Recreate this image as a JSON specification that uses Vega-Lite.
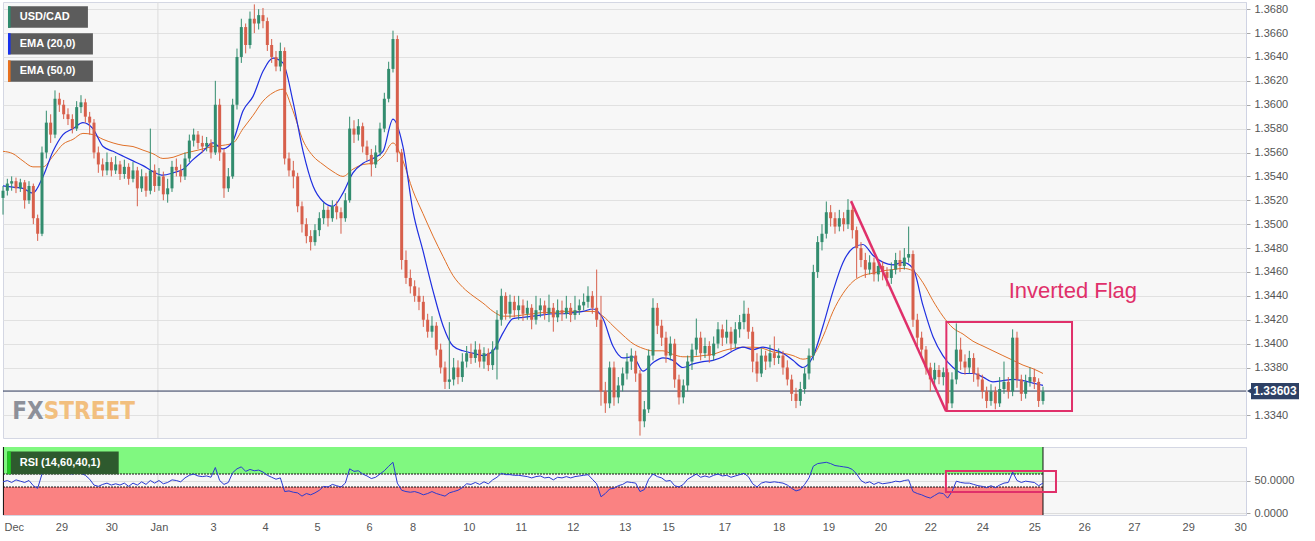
{
"$schema":"https://vega.github.io/schema/vega-lite/v6.json",
"padding":{"left":0,"top":1,"right":0,"bottom":0},
"background":"white",
"spacing":7,
"config":{"view":{"fill":"#f7f7f7","stroke":"#d4d7e3"},"font":"Liberation Sans","axis":{"labelFont":"Liberation Sans","labelColor":"#555555","labelFontSize":11,"labelOverlap":false}},
"datasets":{
"candles":[
{"t":0,"o":1.3522,"h":1.3532,"l":1.3508,"c":1.3528,"r":48},
{"t":2,"o":1.3528,"h":1.3538,"l":1.3524,"c":1.3534,"r":50},
{"t":4,"o":1.3534,"h":1.354,"l":1.3528,"c":1.3536,"r":47},
{"t":6,"o":1.3536,"h":1.3539,"l":1.3526,"c":1.353,"r":51},
{"t":8,"o":1.353,"h":1.3538,"l":1.3527,"c":1.3535,"r":49},
{"t":10,"o":1.3535,"h":1.3537,"l":1.3513,"c":1.352,"r":47},
{"t":12,"o":1.352,"h":1.3536,"l":1.3517,"c":1.3532,"r":50},
{"t":14,"o":1.3532,"h":1.3534,"l":1.35,"c":1.3505,"r":42},
{"t":16,"o":1.3505,"h":1.3508,"l":1.3486,"c":1.3492,"r":38},
{"t":18,"o":1.3492,"h":1.3565,"l":1.349,"c":1.356,"r":60},
{"t":20,"o":1.356,"h":1.3595,"l":1.3555,"c":1.3585,"r":66},
{"t":22,"o":1.3585,"h":1.3592,"l":1.3568,"c":1.3575,"r":64},
{"t":24,"o":1.3575,"h":1.3612,"l":1.3572,"c":1.3605,"r":67},
{"t":26,"o":1.3605,"h":1.361,"l":1.3594,"c":1.36,"r":66},
{"t":28,"o":1.36,"h":1.3604,"l":1.3588,"c":1.3592,"r":63},
{"t":30,"o":1.3592,"h":1.3597,"l":1.3583,"c":1.3588,"r":61},
{"t":32,"o":1.3588,"h":1.3592,"l":1.3576,"c":1.358,"r":60},
{"t":34,"o":1.358,"h":1.3603,"l":1.3578,"c":1.3598,"r":62},
{"t":36,"o":1.3598,"h":1.3608,"l":1.3593,"c":1.3602,"r":61},
{"t":38,"o":1.3602,"h":1.3605,"l":1.3585,"c":1.359,"r":58},
{"t":40,"o":1.359,"h":1.3594,"l":1.3575,"c":1.3585,"r":52},
{"t":42,"o":1.3585,"h":1.3588,"l":1.3555,"c":1.356,"r":43},
{"t":44,"o":1.356,"h":1.3565,"l":1.3543,"c":1.355,"r":41},
{"t":46,"o":1.355,"h":1.3555,"l":1.354,"c":1.3545,"r":44},
{"t":48,"o":1.3545,"h":1.356,"l":1.3541,"c":1.3552,"r":46},
{"t":50,"o":1.3552,"h":1.3556,"l":1.354,"c":1.3545,"r":43},
{"t":52,"o":1.3545,"h":1.3557,"l":1.3542,"c":1.355,"r":45},
{"t":54,"o":1.355,"h":1.3553,"l":1.3537,"c":1.3542,"r":43},
{"t":56,"o":1.3542,"h":1.3554,"l":1.3538,"c":1.3548,"r":46},
{"t":58,"o":1.3548,"h":1.3551,"l":1.3533,"c":1.3538,"r":41},
{"t":60,"o":1.3538,"h":1.3552,"l":1.3535,"c":1.3545,"r":46},
{"t":62,"o":1.3545,"h":1.3548,"l":1.3515,"c":1.353,"r":43},
{"t":64,"o":1.353,"h":1.3546,"l":1.3527,"c":1.354,"r":48},
{"t":66,"o":1.354,"h":1.3543,"l":1.3523,"c":1.3528,"r":44},
{"t":68,"o":1.3528,"h":1.358,"l":1.3525,"c":1.3545,"r":50},
{"t":70,"o":1.3545,"h":1.355,"l":1.3527,"c":1.3532,"r":46},
{"t":72,"o":1.3532,"h":1.3547,"l":1.3528,"c":1.354,"r":50},
{"t":74,"o":1.354,"h":1.3544,"l":1.352,"c":1.3525,"r":45},
{"t":76,"o":1.3525,"h":1.3538,"l":1.3518,"c":1.353,"r":47},
{"t":78,"o":1.353,"h":1.3553,"l":1.3527,"c":1.3548,"r":51},
{"t":80,"o":1.3548,"h":1.3555,"l":1.354,"c":1.3545,"r":50},
{"t":82,"o":1.3545,"h":1.355,"l":1.3535,"c":1.354,"r":48},
{"t":84,"o":1.354,"h":1.356,"l":1.3537,"c":1.3555,"r":54},
{"t":86,"o":1.3555,"h":1.3575,"l":1.3552,"c":1.357,"r":58},
{"t":88,"o":1.357,"h":1.358,"l":1.3565,"c":1.3575,"r":60},
{"t":90,"o":1.3575,"h":1.3578,"l":1.3563,"c":1.3568,"r":57},
{"t":92,"o":1.3568,"h":1.3574,"l":1.356,"c":1.3565,"r":56},
{"t":94,"o":1.3565,"h":1.3573,"l":1.3561,"c":1.3568,"r":57},
{"t":96,"o":1.3568,"h":1.3571,"l":1.3555,"c":1.356,"r":55},
{"t":98,"o":1.356,"h":1.362,"l":1.3558,"c":1.36,"r":70},
{"t":100,"o":1.36,"h":1.3605,"l":1.3553,"c":1.356,"r":50},
{"t":102,"o":1.356,"h":1.3563,"l":1.3522,"c":1.353,"r":44},
{"t":104,"o":1.353,"h":1.3547,"l":1.3527,"c":1.354,"r":47},
{"t":106,"o":1.354,"h":1.3605,"l":1.3538,"c":1.36,"r":62},
{"t":108,"o":1.36,"h":1.3647,"l":1.3596,"c":1.364,"r":68},
{"t":110,"o":1.364,"h":1.3672,"l":1.3635,"c":1.3665,"r":71},
{"t":112,"o":1.3665,"h":1.3668,"l":1.3643,"c":1.365,"r":64},
{"t":114,"o":1.365,"h":1.3678,"l":1.3647,"c":1.3672,"r":67},
{"t":116,"o":1.3672,"h":1.3684,"l":1.366,"c":1.3668,"r":65},
{"t":118,"o":1.3668,"h":1.368,"l":1.3663,"c":1.3675,"r":66},
{"t":120,"o":1.3675,"h":1.3681,"l":1.3664,"c":1.367,"r":63},
{"t":122,"o":1.367,"h":1.3673,"l":1.3645,"c":1.365,"r":58},
{"t":124,"o":1.365,"h":1.3655,"l":1.3635,"c":1.364,"r":55},
{"t":126,"o":1.364,"h":1.3645,"l":1.3628,"c":1.3632,"r":52},
{"t":128,"o":1.3632,"h":1.3652,"l":1.3628,"c":1.3645,"r":54},
{"t":130,"o":1.3645,"h":1.3648,"l":1.355,"c":1.3555,"r":33},
{"t":132,"o":1.3555,"h":1.356,"l":1.354,"c":1.3545,"r":34},
{"t":134,"o":1.3545,"h":1.3553,"l":1.353,"c":1.354,"r":32},
{"t":136,"o":1.354,"h":1.3543,"l":1.351,"c":1.3515,"r":31},
{"t":138,"o":1.3515,"h":1.3519,"l":1.3493,"c":1.35,"r":26},
{"t":140,"o":1.35,"h":1.3505,"l":1.3484,"c":1.349,"r":30},
{"t":142,"o":1.349,"h":1.3495,"l":1.3478,"c":1.3485,"r":28},
{"t":144,"o":1.3485,"h":1.35,"l":1.3482,"c":1.3495,"r":31},
{"t":146,"o":1.3495,"h":1.351,"l":1.349,"c":1.3505,"r":35},
{"t":148,"o":1.3505,"h":1.3518,"l":1.35,"c":1.3512,"r":41},
{"t":150,"o":1.3512,"h":1.3515,"l":1.3498,"c":1.3505,"r":40},
{"t":152,"o":1.3505,"h":1.352,"l":1.3502,"c":1.3515,"r":44},
{"t":154,"o":1.3515,"h":1.3519,"l":1.3504,"c":1.351,"r":42},
{"t":156,"o":1.351,"h":1.3514,"l":1.3492,"c":1.3505,"r":40},
{"t":158,"o":1.3505,"h":1.3526,"l":1.3502,"c":1.352,"r":46},
{"t":160,"o":1.352,"h":1.359,"l":1.3518,"c":1.358,"r":68},
{"t":162,"o":1.358,"h":1.3587,"l":1.3568,"c":1.3575,"r":64},
{"t":164,"o":1.3575,"h":1.3588,"l":1.357,"c":1.3582,"r":65},
{"t":166,"o":1.3582,"h":1.3585,"l":1.356,"c":1.3565,"r":60},
{"t":168,"o":1.3565,"h":1.357,"l":1.3553,"c":1.3558,"r":57},
{"t":170,"o":1.3558,"h":1.3563,"l":1.354,"c":1.355,"r":53},
{"t":172,"o":1.355,"h":1.3566,"l":1.3547,"c":1.356,"r":55},
{"t":174,"o":1.356,"h":1.3585,"l":1.3557,"c":1.358,"r":60},
{"t":176,"o":1.358,"h":1.361,"l":1.3577,"c":1.3605,"r":65},
{"t":178,"o":1.3605,"h":1.3636,"l":1.3602,"c":1.363,"r":72},
{"t":180,"o":1.363,"h":1.3662,"l":1.3627,"c":1.3655,"r":78},
{"t":182,"o":1.3655,"h":1.3658,"l":1.3552,"c":1.356,"r":46},
{"t":184,"o":1.356,"h":1.3563,"l":1.3462,"c":1.347,"r":35},
{"t":186,"o":1.347,"h":1.3478,"l":1.345,"c":1.3455,"r":33},
{"t":188,"o":1.3455,"h":1.3462,"l":1.3442,"c":1.3448,"r":32},
{"t":190,"o":1.3448,"h":1.3453,"l":1.3435,"c":1.344,"r":33},
{"t":192,"o":1.344,"h":1.3447,"l":1.3428,"c":1.3435,"r":31},
{"t":194,"o":1.3435,"h":1.344,"l":1.3414,"c":1.342,"r":28},
{"t":196,"o":1.342,"h":1.3425,"l":1.3405,"c":1.341,"r":30},
{"t":198,"o":1.341,"h":1.3423,"l":1.3405,"c":1.3415,"r":33},
{"t":200,"o":1.3415,"h":1.3418,"l":1.339,"c":1.3395,"r":30},
{"t":202,"o":1.3395,"h":1.34,"l":1.3375,"c":1.338,"r":28},
{"t":204,"o":1.338,"h":1.3385,"l":1.3362,"c":1.3368,"r":26},
{"t":206,"o":1.3368,"h":1.3418,"l":1.3362,"c":1.337,"r":31},
{"t":208,"o":1.337,"h":1.3388,"l":1.3365,"c":1.338,"r":33},
{"t":210,"o":1.338,"h":1.3386,"l":1.3366,"c":1.3372,"r":35},
{"t":212,"o":1.3372,"h":1.3392,"l":1.3368,"c":1.3385,"r":39},
{"t":214,"o":1.3385,"h":1.3398,"l":1.338,"c":1.3392,"r":45},
{"t":216,"o":1.3392,"h":1.34,"l":1.3383,"c":1.3388,"r":44},
{"t":218,"o":1.3388,"h":1.3402,"l":1.3384,"c":1.3395,"r":47},
{"t":220,"o":1.3395,"h":1.34,"l":1.338,"c":1.3385,"r":44},
{"t":222,"o":1.3385,"h":1.3397,"l":1.3379,"c":1.3392,"r":48},
{"t":224,"o":1.3392,"h":1.3396,"l":1.3377,"c":1.3382,"r":45},
{"t":226,"o":1.3382,"h":1.3402,"l":1.3378,"c":1.3395,"r":51},
{"t":228,"o":1.3395,"h":1.3428,"l":1.337,"c":1.342,"r":55},
{"t":230,"o":1.342,"h":1.3446,"l":1.3415,"c":1.344,"r":61},
{"t":232,"o":1.344,"h":1.3443,"l":1.342,"c":1.3425,"r":59},
{"t":234,"o":1.3425,"h":1.3441,"l":1.3421,"c":1.3435,"r":59},
{"t":236,"o":1.3435,"h":1.344,"l":1.3422,"c":1.3428,"r":58},
{"t":238,"o":1.3428,"h":1.344,"l":1.342,"c":1.3432,"r":58},
{"t":240,"o":1.3432,"h":1.3437,"l":1.3419,"c":1.3425,"r":57},
{"t":242,"o":1.3425,"h":1.3436,"l":1.342,"c":1.343,"r":56},
{"t":244,"o":1.343,"h":1.3433,"l":1.3412,"c":1.342,"r":54},
{"t":246,"o":1.342,"h":1.344,"l":1.3416,"c":1.3428,"r":56},
{"t":248,"o":1.3428,"h":1.3438,"l":1.3422,"c":1.3432,"r":57},
{"t":250,"o":1.3432,"h":1.3436,"l":1.342,"c":1.3425,"r":54},
{"t":252,"o":1.3425,"h":1.3441,"l":1.3418,"c":1.343,"r":55},
{"t":254,"o":1.343,"h":1.3434,"l":1.341,"c":1.3422,"r":51},
{"t":256,"o":1.3422,"h":1.3437,"l":1.3418,"c":1.3428,"r":55},
{"t":258,"o":1.3428,"h":1.3436,"l":1.3419,"c":1.3425,"r":54},
{"t":260,"o":1.3425,"h":1.344,"l":1.3421,"c":1.343,"r":56},
{"t":262,"o":1.343,"h":1.3434,"l":1.3418,"c":1.3424,"r":54},
{"t":264,"o":1.3424,"h":1.344,"l":1.342,"c":1.3428,"r":56},
{"t":266,"o":1.3428,"h":1.3437,"l":1.3424,"c":1.3432,"r":57},
{"t":268,"o":1.3432,"h":1.3442,"l":1.3428,"c":1.3435,"r":58},
{"t":270,"o":1.3435,"h":1.3448,"l":1.343,"c":1.344,"r":59},
{"t":272,"o":1.344,"h":1.3444,"l":1.3425,"c":1.343,"r":52},
{"t":274,"o":1.343,"h":1.3462,"l":1.3414,"c":1.342,"r":45},
{"t":276,"o":1.342,"h":1.344,"l":1.3348,"c":1.336,"r":25},
{"t":278,"o":1.336,"h":1.3368,"l":1.3342,"c":1.335,"r":30},
{"t":280,"o":1.335,"h":1.3385,"l":1.3346,"c":1.338,"r":37},
{"t":282,"o":1.338,"h":1.3385,"l":1.3348,"c":1.3355,"r":38},
{"t":284,"o":1.3355,"h":1.3372,"l":1.335,"c":1.3365,"r":42},
{"t":286,"o":1.3365,"h":1.338,"l":1.336,"c":1.3375,"r":44},
{"t":288,"o":1.3375,"h":1.3392,"l":1.337,"c":1.3385,"r":48},
{"t":290,"o":1.3385,"h":1.3396,"l":1.3378,"c":1.339,"r":47},
{"t":292,"o":1.339,"h":1.3394,"l":1.3368,"c":1.3375,"r":46},
{"t":294,"o":1.3375,"h":1.3378,"l":1.3323,"c":1.3335,"r":33},
{"t":296,"o":1.3335,"h":1.3352,"l":1.333,"c":1.3345,"r":36},
{"t":298,"o":1.3345,"h":1.3395,"l":1.3342,"c":1.339,"r":52},
{"t":300,"o":1.339,"h":1.3438,"l":1.3386,"c":1.343,"r":60},
{"t":302,"o":1.343,"h":1.3434,"l":1.3408,"c":1.3415,"r":56},
{"t":304,"o":1.3415,"h":1.342,"l":1.3398,"c":1.3405,"r":54},
{"t":306,"o":1.3405,"h":1.341,"l":1.3384,"c":1.339,"r":49},
{"t":308,"o":1.339,"h":1.3406,"l":1.3386,"c":1.34,"r":50},
{"t":310,"o":1.34,"h":1.3404,"l":1.3363,"c":1.337,"r":42},
{"t":312,"o":1.337,"h":1.3374,"l":1.3349,"c":1.3355,"r":40},
{"t":314,"o":1.3355,"h":1.337,"l":1.335,"c":1.3365,"r":44},
{"t":316,"o":1.3365,"h":1.339,"l":1.336,"c":1.3385,"r":52},
{"t":318,"o":1.3385,"h":1.34,"l":1.3378,"c":1.3395,"r":56},
{"t":320,"o":1.3395,"h":1.3421,"l":1.339,"c":1.3405,"r":60},
{"t":322,"o":1.3405,"h":1.341,"l":1.3386,"c":1.3392,"r":55},
{"t":324,"o":1.3392,"h":1.3405,"l":1.3388,"c":1.3398,"r":57},
{"t":326,"o":1.3398,"h":1.3402,"l":1.3384,"c":1.339,"r":55},
{"t":328,"o":1.339,"h":1.3406,"l":1.3386,"c":1.34,"r":58},
{"t":330,"o":1.34,"h":1.3418,"l":1.3396,"c":1.3412,"r":60},
{"t":332,"o":1.3412,"h":1.3416,"l":1.3398,"c":1.3405,"r":57},
{"t":334,"o":1.3405,"h":1.342,"l":1.34,"c":1.341,"r":58},
{"t":336,"o":1.341,"h":1.3414,"l":1.3394,"c":1.34,"r":55},
{"t":338,"o":1.34,"h":1.3418,"l":1.3396,"c":1.3412,"r":57},
{"t":340,"o":1.3412,"h":1.3424,"l":1.3405,"c":1.3418,"r":59},
{"t":342,"o":1.3418,"h":1.3436,"l":1.3412,"c":1.3425,"r":61},
{"t":344,"o":1.3425,"h":1.343,"l":1.3404,"c":1.341,"r":56},
{"t":346,"o":1.341,"h":1.3414,"l":1.3376,"c":1.3385,"r":45},
{"t":348,"o":1.3385,"h":1.3392,"l":1.3368,"c":1.3375,"r":40},
{"t":350,"o":1.3375,"h":1.3396,"l":1.3372,"c":1.339,"r":46},
{"t":352,"o":1.339,"h":1.3394,"l":1.3378,"c":1.3385,"r":48},
{"t":354,"o":1.3385,"h":1.3399,"l":1.338,"c":1.3392,"r":47},
{"t":356,"o":1.3392,"h":1.3406,"l":1.3382,"c":1.3388,"r":48},
{"t":358,"o":1.3388,"h":1.3396,"l":1.3383,"c":1.339,"r":47},
{"t":360,"o":1.339,"h":1.3394,"l":1.3374,"c":1.338,"r":46},
{"t":362,"o":1.338,"h":1.3386,"l":1.3365,"c":1.337,"r":43},
{"t":364,"o":1.337,"h":1.3374,"l":1.3352,"c":1.3358,"r":38},
{"t":366,"o":1.3358,"h":1.3363,"l":1.3346,"c":1.3352,"r":34},
{"t":368,"o":1.3352,"h":1.3368,"l":1.3348,"c":1.3362,"r":36},
{"t":370,"o":1.3362,"h":1.338,"l":1.3358,"c":1.3375,"r":44},
{"t":372,"o":1.3375,"h":1.3396,"l":1.337,"c":1.339,"r":54},
{"t":374,"o":1.339,"h":1.3466,"l":1.3386,"c":1.346,"r":72},
{"t":376,"o":1.346,"h":1.349,"l":1.3455,"c":1.3485,"r":76},
{"t":378,"o":1.3485,"h":1.35,"l":1.3478,"c":1.3492,"r":77},
{"t":380,"o":1.3492,"h":1.3519,"l":1.3488,"c":1.351,"r":78},
{"t":382,"o":1.351,"h":1.3516,"l":1.3498,"c":1.3505,"r":76},
{"t":384,"o":1.3505,"h":1.351,"l":1.3492,"c":1.3498,"r":73},
{"t":386,"o":1.3498,"h":1.3512,"l":1.3494,"c":1.3505,"r":72},
{"t":388,"o":1.3505,"h":1.351,"l":1.3494,"c":1.35,"r":71},
{"t":390,"o":1.35,"h":1.3521,"l":1.3496,"c":1.3512,"r":70},
{"t":392,"o":1.3512,"h":1.3516,"l":1.3488,"c":1.3495,"r":67},
{"t":394,"o":1.3495,"h":1.3498,"l":1.3455,"c":1.348,"r":60},
{"t":396,"o":1.348,"h":1.3485,"l":1.3464,"c":1.347,"r":50},
{"t":398,"o":1.347,"h":1.3476,"l":1.3455,"c":1.3462,"r":46},
{"t":400,"o":1.3462,"h":1.3474,"l":1.3458,"c":1.3468,"r":48},
{"t":402,"o":1.3468,"h":1.3472,"l":1.3452,"c":1.3458,"r":44},
{"t":404,"o":1.3458,"h":1.347,"l":1.3452,"c":1.3465,"r":47},
{"t":406,"o":1.3465,"h":1.3469,"l":1.3453,"c":1.346,"r":45},
{"t":408,"o":1.346,"h":1.3464,"l":1.3448,"c":1.3455,"r":46},
{"t":410,"o":1.3455,"h":1.3468,"l":1.345,"c":1.3462,"r":47},
{"t":412,"o":1.3462,"h":1.3476,"l":1.3458,"c":1.347,"r":49},
{"t":414,"o":1.347,"h":1.3478,"l":1.346,"c":1.3465,"r":48},
{"t":416,"o":1.3465,"h":1.348,"l":1.3462,"c":1.3472,"r":50},
{"t":418,"o":1.3472,"h":1.3498,"l":1.3468,"c":1.3475,"r":51},
{"t":420,"o":1.3475,"h":1.3478,"l":1.3414,"c":1.342,"r":33},
{"t":422,"o":1.342,"h":1.3425,"l":1.3398,"c":1.3405,"r":30},
{"t":424,"o":1.3405,"h":1.341,"l":1.3388,"c":1.3395,"r":28},
{"t":426,"o":1.3395,"h":1.3398,"l":1.3374,"c":1.338,"r":25},
{"t":428,"o":1.338,"h":1.3384,"l":1.336,"c":1.337,"r":23},
{"t":430,"o":1.337,"h":1.3384,"l":1.3365,"c":1.3378,"r":27},
{"t":432,"o":1.3378,"h":1.3382,"l":1.3366,"c":1.3372,"r":31},
{"t":434,"o":1.3372,"h":1.338,"l":1.3365,"c":1.3376,"r":30},
{"t":436,"o":1.3376,"h":1.3379,"l":1.3343,"c":1.335,"r":23},
{"t":438,"o":1.335,"h":1.3376,"l":1.3346,"c":1.337,"r":33},
{"t":440,"o":1.337,"h":1.3417,"l":1.3366,"c":1.3395,"r":49},
{"t":442,"o":1.3395,"h":1.3405,"l":1.3378,"c":1.3385,"r":47},
{"t":444,"o":1.3385,"h":1.3391,"l":1.3374,"c":1.338,"r":46},
{"t":446,"o":1.338,"h":1.3394,"l":1.3375,"c":1.3388,"r":46},
{"t":448,"o":1.3388,"h":1.3392,"l":1.3368,"c":1.3375,"r":44},
{"t":450,"o":1.3375,"h":1.338,"l":1.3364,"c":1.337,"r":42},
{"t":452,"o":1.337,"h":1.3374,"l":1.3354,"c":1.336,"r":41},
{"t":454,"o":1.336,"h":1.3364,"l":1.3346,"c":1.3352,"r":39},
{"t":456,"o":1.3352,"h":1.3366,"l":1.3348,"c":1.336,"r":42},
{"t":458,"o":1.336,"h":1.3364,"l":1.3345,"c":1.335,"r":39},
{"t":460,"o":1.335,"h":1.3372,"l":1.3347,"c":1.3362,"r":43},
{"t":462,"o":1.3362,"h":1.3385,"l":1.3358,"c":1.3368,"r":46},
{"t":464,"o":1.3368,"h":1.3372,"l":1.3354,"c":1.336,"r":47},
{"t":466,"o":1.336,"h":1.3412,"l":1.3356,"c":1.3405,"r":63},
{"t":468,"o":1.3405,"h":1.341,"l":1.3363,"c":1.337,"r":50},
{"t":470,"o":1.337,"h":1.3374,"l":1.3352,"c":1.3358,"r":47},
{"t":472,"o":1.3358,"h":1.3374,"l":1.3354,"c":1.3368,"r":49},
{"t":474,"o":1.3368,"h":1.338,"l":1.3364,"c":1.3372,"r":48},
{"t":476,"o":1.3372,"h":1.3379,"l":1.3362,"c":1.3368,"r":47},
{"t":478,"o":1.3368,"h":1.3371,"l":1.3347,"c":1.3352,"r":42},
{"t":480,"o":1.3352,"h":1.3364,"l":1.3349,"c":1.3360,"r":46}
],
"ema":[
{"t":0,"a":1.3532,"b":1.3561},{"t":4.6,"a":1.3531,"b":1.3559},{"t":9.2,"a":1.353,"b":1.3553},{"t":13.8,"a":1.3526,"b":1.3548},
{"t":18.5,"a":1.354,"b":1.3548},{"t":23.1,"a":1.3561,"b":1.3557},{"t":27.7,"a":1.3575,"b":1.3567},{"t":32.3,"a":1.358,"b":1.3571},
{"t":36.9,"a":1.3585,"b":1.3576},{"t":41.5,"a":1.358,"b":1.3575},{"t":46.2,"a":1.3565,"b":1.3571},{"t":50.8,"a":1.3561,"b":1.3568},
{"t":55.4,"a":1.3557,"b":1.3566},{"t":60,"a":1.3553,"b":1.3565},{"t":64.6,"a":1.3549,"b":1.3562},{"t":69.2,"a":1.3544,"b":1.3559},
{"t":73.8,"a":1.3541,"b":1.3555},{"t":78.5,"a":1.3543,"b":1.3556},{"t":83.1,"a":1.3546,"b":1.3559},{"t":87.7,"a":1.3554,"b":1.3561},
{"t":92.3,"a":1.3561,"b":1.3563},{"t":96.9,"a":1.3568,"b":1.3565},{"t":101.5,"a":1.3563,"b":1.3566},{"t":106.2,"a":1.357,"b":1.3568},
{"t":110.8,"a":1.3595,"b":1.358},{"t":115.4,"a":1.3607,"b":1.3591},{"t":120,"a":1.3628,"b":1.3603},{"t":124.6,"a":1.3639,"b":1.361},
{"t":129.2,"a":1.3635,"b":1.3613},{"t":133.8,"a":1.3603,"b":1.3595},{"t":138.5,"a":1.3561,"b":1.357},{"t":143.1,"a":1.3532,"b":1.3557},
{"t":147.7,"a":1.3519,"b":1.355},{"t":152.3,"a":1.3515,"b":1.3544},{"t":156.9,"a":1.3526,"b":1.354},{"t":161.5,"a":1.3543,"b":1.3546},
{"t":166.2,"a":1.3551,"b":1.355},{"t":170.8,"a":1.3555,"b":1.3551},{"t":175.4,"a":1.3561,"b":1.3557},{"t":180,"a":1.3588,"b":1.3568},
{"t":184.6,"a":1.3565,"b":1.3553},{"t":189.2,"a":1.3511,"b":1.3528},{"t":193.8,"a":1.3478,"b":1.3509},{"t":198.5,"a":1.3444,"b":1.349},
{"t":203.1,"a":1.3415,"b":1.3473},{"t":207.7,"a":1.3398,"b":1.3457},{"t":212.3,"a":1.3394,"b":1.3447},{"t":216.9,"a":1.3392,"b":1.344},
{"t":221.5,"a":1.339,"b":1.3434},{"t":226.2,"a":1.3394,"b":1.3427},{"t":230.8,"a":1.3409,"b":1.3423},{"t":235.4,"a":1.3421,"b":1.3423},
{"t":240,"a":1.3422,"b":1.3424},{"t":244.6,"a":1.3423,"b":1.3425},{"t":249.2,"a":1.3424,"b":1.3426},{"t":253.8,"a":1.3425,"b":1.3426},
{"t":258.5,"a":1.3425,"b":1.3427},{"t":263.1,"a":1.3426,"b":1.3427},{"t":267.7,"a":1.3427,"b":1.3427},{"t":272.3,"a":1.3429,"b":1.3427},
{"t":276.9,"a":1.3421,"b":1.3423},{"t":281.5,"a":1.3398,"b":1.3415},{"t":286.2,"a":1.3388,"b":1.3407},{"t":290.8,"a":1.3389,"b":1.34},
{"t":295.4,"a":1.3377,"b":1.3396},{"t":300,"a":1.3384,"b":1.3394},{"t":304.6,"a":1.3388,"b":1.3394},{"t":309.2,"a":1.3386,"b":1.3391},
{"t":313.8,"a":1.338,"b":1.3389},{"t":318.5,"a":1.3383,"b":1.3389},{"t":323.1,"a":1.3385,"b":1.339},{"t":327.7,"a":1.3386,"b":1.3391},
{"t":332.3,"a":1.3389,"b":1.3394},{"t":336.9,"a":1.3394,"b":1.3396},{"t":341.5,"a":1.3397,"b":1.3397},{"t":346.2,"a":1.3395,"b":1.3397},
{"t":350.8,"a":1.3397,"b":1.3396},{"t":355.4,"a":1.3395,"b":1.3393},{"t":360,"a":1.3392,"b":1.3392},{"t":364.6,"a":1.3386,"b":1.339},
{"t":369.2,"a":1.338,"b":1.3387},{"t":373.8,"a":1.3389,"b":1.339},{"t":378.5,"a":1.3415,"b":1.3406},{"t":383.1,"a":1.3444,"b":1.3427},
{"t":387.7,"a":1.3468,"b":1.3442},{"t":392.3,"a":1.348,"b":1.3452},{"t":396.9,"a":1.3483,"b":1.3457},{"t":401.5,"a":1.3474,"b":1.3459},
{"t":406.2,"a":1.3468,"b":1.3461},{"t":410.8,"a":1.3466,"b":1.3462},{"t":415.4,"a":1.3468,"b":1.3463},{"t":420,"a":1.3463,"b":1.3461},
{"t":424.6,"a":1.3432,"b":1.3451},{"t":429.2,"a":1.3406,"b":1.3436},{"t":433.8,"a":1.339,"b":1.3423},{"t":438.5,"a":1.338,"b":1.3413},
{"t":443.1,"a":1.3375,"b":1.3408},{"t":447.7,"a":1.3375,"b":1.3402},{"t":452.3,"a":1.3372,"b":1.3398},{"t":456.9,"a":1.3368,"b":1.3394},
{"t":461.5,"a":1.3369,"b":1.339},{"t":466.2,"a":1.337,"b":1.3386},{"t":470.8,"a":1.3369,"b":1.3382},{"t":475.4,"a":1.3367,"b":1.3379},
{"t":480,"a":1.3365,"b":1.3375}
]
},
"vconcat":[
{
"width":1243,"height":436,
"layer":[
{"data":{"values":[{}]},"mark":{"type":"rule","color":"#dcdcdc","strokeWidth":1},
 "encoding":{"x":{"datum":71.5,"type":"quantitative","scale":{"domain":[0,573.7],"nice":false,"zero":false,"padding":0},"axis":null}}},
{"data":{"values":[{}]},"mark":{"type":"rule","color":"#2a3658","strokeWidth":1},
 "encoding":{"y":{"datum":1.33603,"type":"quantitative","scale":{"domain":[1.3321,1.3686],"nice":false,"zero":false,"padding":0},
  "axis":{"orient":"right","title":null,"values":[1.334,1.338,1.34,1.342,1.344,1.346,1.348,1.35,1.352,1.354,1.356,1.358,1.36,1.362,1.364,1.366,1.368],"tickCount":30,"format":".4f","grid":true,"gridColor":"#e1e1e1","domainColor":"#cfd3e3","tickColor":"#a8a8a8","tickSize":4,"labelPadding":4,"labelFontSize":11,"labelOverlap":false,"labelFlush":false}}}},
{"data":{"values":[{}]},"mark":{"type":"text","text":"FX","align":"right","baseline":"alphabetic","font":"DejaVu Sans Condensed, Liberation Sans Narrow, sans-serif","fontSize":24,"fontWeight":"bold","color":"#8d9099"},
 "encoding":{"x":{"datum":18.8,"type":"quantitative","scale":{"domain":[0,573.7],"nice":false,"zero":false,"padding":0}},"y":{"datum":1.3337,"type":"quantitative"}}},
{"data":{"values":[{}]},"mark":{"type":"text","text":"STREET","align":"left","baseline":"alphabetic","font":"DejaVu Sans Condensed, Liberation Sans Narrow, sans-serif","fontSize":24,"fontWeight":"bold","color":"#f2bf7e"},
 "encoding":{"x":{"datum":18.8,"type":"quantitative","scale":{"domain":[0,573.7],"nice":false,"zero":false,"padding":0}},"y":{"datum":1.3337,"type":"quantitative"}}},
{"data":{"name":"ema"},"mark":{"type":"line","color":"#e07028","strokeWidth":1,"interpolate":"monotone"},
 "encoding":{"x":{"field":"t","type":"quantitative","scale":{"domain":[0,573.7],"nice":false,"zero":false,"padding":0}},"y":{"field":"b","type":"quantitative"}}},
{"data":{"name":"ema"},"mark":{"type":"line","color":"#1f2fe0","strokeWidth":1.2,"interpolate":"monotone"},
 "encoding":{"x":{"field":"t","type":"quantitative","scale":{"domain":[0,573.7],"nice":false,"zero":false,"padding":0}},"y":{"field":"a","type":"quantitative"}}},
{"data":{"name":"candles"},"mark":{"type":"rule","strokeWidth":1},
 "encoding":{"x":{"field":"t","type":"quantitative","scale":{"domain":[0,573.7],"nice":false,"zero":false,"padding":0}},"y":{"field":"l","type":"quantitative"},"y2":{"field":"h"},
  "color":{"condition":{"test":"datum.c >= datum.o","value":"#328c6e"},"value":"#d75f4b"}}},
{"data":{"name":"candles"},"mark":{"type":"bar","width":3,"orient":"vertical"},
 "encoding":{"x":{"field":"t","type":"quantitative","scale":{"domain":[0,573.7],"nice":false,"zero":false,"padding":0}},"y":{"field":"o","type":"quantitative"},"y2":{"field":"c"},
  "color":{"condition":{"test":"datum.c >= datum.o","value":"#328c6e"},"value":"#d75f4b"}}},
{"data":{"values":[{}]},"mark":{"type":"rule","color":"#e0306a","strokeWidth":2.5},
 "encoding":{"x":{"datum":391.4,"type":"quantitative","scale":{"domain":[0,573.7],"nice":false,"zero":false,"padding":0}},"y":{"datum":1.35193,"type":"quantitative"},"x2":{"datum":435.2},"y2":{"datum":1.33436}}},
{"data":{"values":[{}]},"mark":{"type":"rect","fill":null,"fillOpacity":0,"stroke":"#e0306a","strokeWidth":2},
 "encoding":{"x":{"datum":435.4,"type":"quantitative","scale":{"domain":[0,573.7],"nice":false,"zero":false,"padding":0}},"x2":{"datum":493.4},"y":{"datum":1.34181,"type":"quantitative"},"y2":{"datum":1.33436}}},
{"data":{"values":[{}]},"mark":{"type":"text","text":"Inverted Flag","align":"center","baseline":"middle","fontSize":22,"color":"#e0306a","font":"Liberation Sans"},
 "encoding":{"x":{"datum":493.8,"type":"quantitative","scale":{"domain":[0,573.7],"nice":false,"zero":false,"padding":0}},"y":{"datum":1.3444,"type":"quantitative"}}},
{"data":{"values":[{}]},"mark":{"type":"rect","color":"#5c5c5c"},
 "encoding":{"x":{"datum":2.3,"type":"quantitative","scale":{"domain":[0,573.7],"nice":false,"zero":false,"padding":0}},"x2":{"datum":39.2},"y":{"datum":1.36825,"type":"quantitative"},"y2":{"datum":1.36644}}},
{"data":{"values":[{}]},"mark":{"type":"rect","color":"#5c5c5c"},
 "encoding":{"x":{"datum":2.3,"type":"quantitative","scale":{"domain":[0,573.7],"nice":false,"zero":false,"padding":0}},"x2":{"datum":41.5},"y":{"datum":1.36599,"type":"quantitative"},"y2":{"datum":1.36421}}},
{"data":{"values":[{}]},"mark":{"type":"rect","color":"#5c5c5c"},
 "encoding":{"x":{"datum":2.3,"type":"quantitative","scale":{"domain":[0,573.7],"nice":false,"zero":false,"padding":0}},"x2":{"datum":41.5},"y":{"datum":1.36371,"type":"quantitative"},"y2":{"datum":1.36192}}},
{"data":{"values":[{}]},"mark":{"type":"rect","color":"#2e8b6e"},
 "encoding":{"x":{"datum":2.3,"type":"quantitative","scale":{"domain":[0,573.7],"nice":false,"zero":false,"padding":0}},"x2":{"datum":3.5},"y":{"datum":1.36825,"type":"quantitative"},"y2":{"datum":1.36644}}},
{"data":{"values":[{}]},"mark":{"type":"rect","color":"#1530ee"},
 "encoding":{"x":{"datum":2.3,"type":"quantitative","scale":{"domain":[0,573.7],"nice":false,"zero":false,"padding":0}},"x2":{"datum":3.5},"y":{"datum":1.36599,"type":"quantitative"},"y2":{"datum":1.36421}}},
{"data":{"values":[{}]},"mark":{"type":"rect","color":"#e8701e"},
 "encoding":{"x":{"datum":2.3,"type":"quantitative","scale":{"domain":[0,573.7],"nice":false,"zero":false,"padding":0}},"x2":{"datum":3.5},"y":{"datum":1.36371,"type":"quantitative"},"y2":{"datum":1.36192}}},
{"data":{"values":[{}]},"mark":{"type":"text","text":"USD/CAD","align":"left","baseline":"middle","fontSize":11,"fontWeight":"bold","color":"white"},
 "encoding":{"x":{"datum":7.7,"type":"quantitative","scale":{"domain":[0,573.7],"nice":false,"zero":false,"padding":0}},"y":{"datum":1.36735,"type":"quantitative"}}},
{"data":{"values":[{}]},"mark":{"type":"text","text":"EMA (20,0)","align":"left","baseline":"middle","fontSize":11,"fontWeight":"bold","color":"white"},
 "encoding":{"x":{"datum":7.7,"type":"quantitative","scale":{"domain":[0,573.7],"nice":false,"zero":false,"padding":0}},"y":{"datum":1.3651,"type":"quantitative"}}},
{"data":{"values":[{}]},"mark":{"type":"text","text":"EMA (50,0)","align":"left","baseline":"middle","fontSize":11,"fontWeight":"bold","color":"white"},
 "encoding":{"x":{"datum":7.7,"type":"quantitative","scale":{"domain":[0,573.7],"nice":false,"zero":false,"padding":0}},"y":{"datum":1.36281,"type":"quantitative"}}},
{"data":{"values":[{}]},"mark":{"type":"rect","color":"#2e4165","xOffset":5,"x2Offset":53},
 "encoding":{"x":{"datum":573.7,"type":"quantitative","scale":{"domain":[0,573.7],"nice":false,"zero":false,"padding":0}},"x2":{"datum":573.7},"y":{"datum":1.3367,"type":"quantitative"},"y2":{"datum":1.33535}}},
{"data":{"values":[{}]},"mark":{"type":"point","shape":"triangle-left","filled":true,"size":50,"color":"#2e4165","opacity":1,"xOffset":4},
 "encoding":{"x":{"datum":573.7,"type":"quantitative","scale":{"domain":[0,573.7],"nice":false,"zero":false,"padding":0}},"y":{"datum":1.33603,"type":"quantitative"}}},
{"data":{"values":[{}]},"mark":{"type":"text","text":"1.33603","align":"center","baseline":"middle","fontSize":12,"fontWeight":"bold","color":"white","xOffset":29},
 "encoding":{"x":{"datum":573.7,"type":"quantitative","scale":{"domain":[0,573.7],"nice":false,"zero":false,"padding":0}},"y":{"datum":1.33603,"type":"quantitative"}}}
]
},
{
"width":1243,"height":68,
"layer":[
{"data":{"values":[{}]},"mark":{"type":"rule","color":"#dcdcdc","strokeWidth":1},
 "encoding":{"x":{"datum":71.5,"type":"quantitative","scale":{"domain":[0,573.7],"nice":false,"zero":false,"padding":0}}}},
{"data":{"values":[{}]},"mark":{"type":"rect","color":"#80f880"},
 "encoding":{"x":{"datum":0,"type":"quantitative","scale":{"domain":[0,573.7],"nice":false,"zero":false,"padding":0}},"x2":{"datum":480},"y":{"datum":60,"type":"quantitative","scale":{"domain":[-3,101.5],"nice":false,"zero":false,"padding":0}},"y2":{"datum":101.5}}},
{"data":{"values":[{}]},"mark":{"type":"rect","color":"#fa8282"},
 "encoding":{"x":{"datum":0,"type":"quantitative","scale":{"domain":[0,573.7],"nice":false,"zero":false,"padding":0}},"x2":{"datum":480},"y":{"datum":-3,"type":"quantitative"},"y2":{"datum":40}}},
{"data":{"values":[{}]},"mark":{"type":"rule","color":"#111111","strokeWidth":1,"strokeDash":[2,1]},
 "encoding":{"x":{"datum":0,"type":"quantitative","scale":{"domain":[0,573.7],"nice":false,"zero":false,"padding":0}},"x2":{"datum":480},"y":{"datum":60,"type":"quantitative"}}},
{"data":{"values":[{}]},"mark":{"type":"rule","color":"#111111","strokeWidth":1,"strokeDash":[2,1]},
 "encoding":{"x":{"datum":0,"type":"quantitative","scale":{"domain":[0,573.7],"nice":false,"zero":false,"padding":0}},"x2":{"datum":480},"y":{"datum":40,"type":"quantitative"}}},
{"data":{"values":[{}]},"mark":{"type":"rule","color":"#111111","strokeWidth":1},
 "encoding":{"x":{"datum":480,"type":"quantitative","scale":{"domain":[0,573.7],"nice":false,"zero":false,"padding":0}},"y":{"datum":-3,"type":"quantitative"},"y2":{"datum":101.5}}},
{"data":{"values":[{}]},"mark":{"type":"rule","color":"#111111","strokeWidth":1},
 "encoding":{"x":{"datum":0.2,"type":"quantitative","scale":{"domain":[0,573.7],"nice":false,"zero":false,"padding":0}},"y":{"datum":-3,"type":"quantitative"},"y2":{"datum":101.5}}},
{"data":{"name":"candles"},"mark":{"type":"line","color":"#2a3ad0","strokeWidth":1},
 "encoding":{"x":{"field":"t","type":"quantitative","scale":{"domain":[0,573.7],"nice":false,"zero":false,"padding":0},
   "axis":{"title":null,"values":[5,27,50,72,97,121,145,169,189,215,239,263,287,307,333,358,381,405,428,452,476,499,522,547,571],"tickCount":40,
    "labelExpr":"['Dec','29','30','Jan','3','4','5','6','8','10','11','12','13','15','17','18','19','20','22','24','25','26','27','29','30'][indexof([5,27,50,72,97,121,145,169,189,215,239,263,287,307,333,358,381,405,428,452,476,499,522,547,571], datum.value)]",
    "grid":false,"ticks":false,"domain":false,"labelPadding":6,"labelFontSize":11,"labelFlush":false,"labelOverlap":false}},
  "y":{"field":"r","type":"quantitative","scale":{"domain":[-3,101.5],"nice":false,"zero":false,"padding":0},
   "axis":{"orient":"right","title":null,"values":[0,50],"format":".4f","grid":true,"gridColor":"#dddddd","domainColor":"#cfd3e3","tickColor":"#a8a8a8","tickSize":4,"labelPadding":4,"labelFontSize":11,"labelFlush":false}}}},
{"data":{"values":[{}]},"mark":{"type":"rect","fill":null,"fillOpacity":0,"stroke":"#e0306a","strokeWidth":2},
 "encoding":{"x":{"datum":435.2,"type":"quantitative","scale":{"domain":[0,573.7],"nice":false,"zero":false,"padding":0}},"x2":{"datum":486},"y":{"datum":64.6,"type":"quantitative"},"y2":{"datum":32.3}}},
{"data":{"values":[{}]},"mark":{"type":"rect","color":"#2e5a2e"},
 "encoding":{"x":{"datum":2.0,"type":"quantitative","scale":{"domain":[0,573.7],"nice":false,"zero":false,"padding":0}},"x2":{"datum":53.4},"y":{"datum":94.6,"type":"quantitative"},"y2":{"datum":59.5}}},
{"data":{"values":[{}]},"mark":{"type":"rect","color":"#22cc22"},
 "encoding":{"x":{"datum":2.0,"type":"quantitative","scale":{"domain":[0,573.7],"nice":false,"zero":false,"padding":0}},"x2":{"datum":3.6},"y":{"datum":94.6,"type":"quantitative"},"y2":{"datum":59.5}}},
{"data":{"values":[{}]},"mark":{"type":"text","text":"RSI (14,60,40,1)","align":"left","baseline":"middle","fontSize":11,"fontWeight":"bold","color":"white"},
 "encoding":{"x":{"datum":7.7,"type":"quantitative","scale":{"domain":[0,573.7],"nice":false,"zero":false,"padding":0}},"y":{"datum":77,"type":"quantitative"}}}
]
}
]
}
